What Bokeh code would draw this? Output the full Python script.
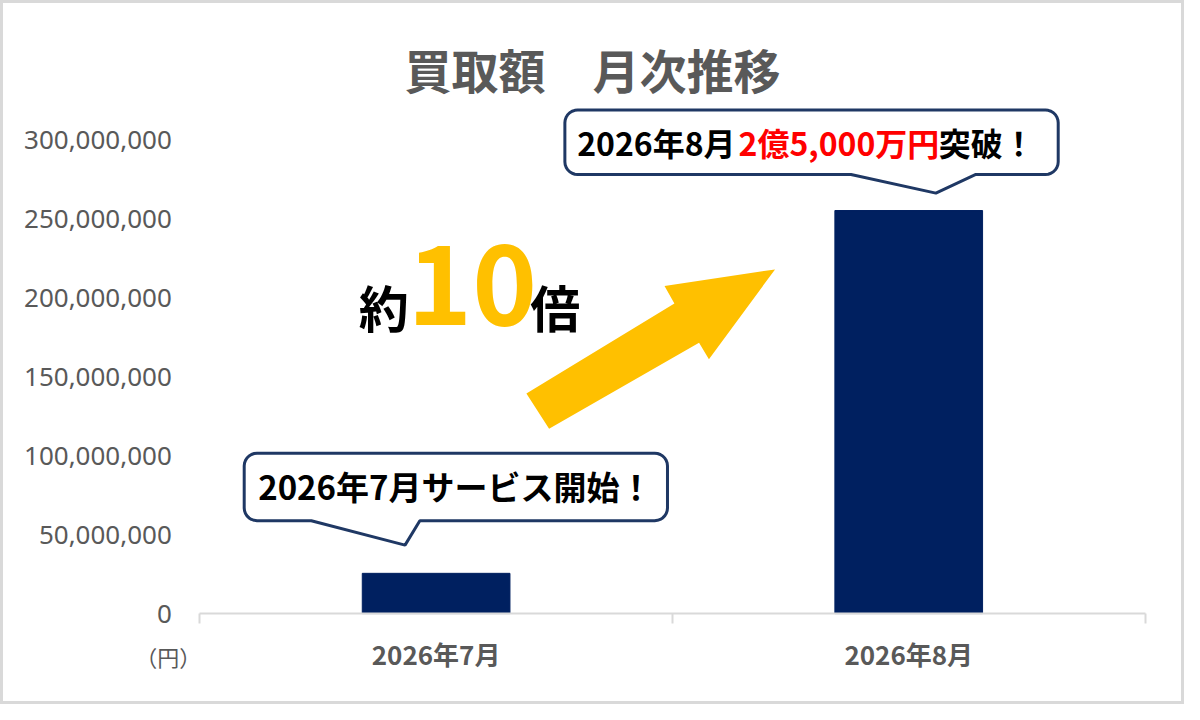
import numpy as np
from bokeh.plotting import figure
from bokeh.models import Label, FixedTicker, NumeralTickFormatter, Range1d
from bokeh.embed import file_html
from bokeh.resources import INLINE

# ---------------- data ----------------
categories = ["2026年7月", "2026年8月"]
values = [25_500_000, 255_500_000]
y_ticks = [0, 50_000_000, 100_000_000, 150_000_000, 200_000_000, 250_000_000, 300_000_000]
title_text = "買取額　月次推移"
unit_text = "（円）"
callout_jul = "2026年7月サービス開始！"
callout_aug = ["2026年8月", "2億5,000万円", "突破！"]
ratio_text = ["約", "10", "倍"]

# ---------------- layout (reference pixels, 1200x720 design) ----------------
REF_W, REF_H = 1200, 720
W, H = 1184, 704
PL, PR, PB = 202, 1160, 627          # plot area left/right/baseline
Y_TOP_TICK_PX = 143                  # row of the top tick
px_per_val = (PB - Y_TOP_TICK_PX) / y_ticks[-1]
n = len(categories)

def dx(X):
    return (X - PL) / (PR - PL) * n

def dy(Y):
    return (PB - Y) / px_per_val

CJK = "Noto Sans CJK JP"
GRAY = "#595959"

p = figure(width=W, height=H,
           x_range=Range1d(dx(0), dx(REF_W)), y_range=Range1d(dy(REF_H), dy(0)),
           output_backend="svg", toolbar_location=None, title=None,
           min_border=0, min_border_left=0, min_border_right=0,
           min_border_top=0, min_border_bottom=0)
p.background_fill_color = "white"
p.border_fill_color = "white"
p.outline_line_color = "#d9d9d9"
p.outline_line_width = 5
p.xgrid.visible = False
p.ygrid.visible = False

# x axis (category labels at centers, separators as minor ticks)
centers = [i + 0.5 for i in range(n)]
xa = p.xaxis[0]
xa.fixed_location = 0
xa.bounds = (0, n)
xa.ticker = FixedTicker(ticks=centers, minor_ticks=list(range(n + 1)))
xa.major_label_overrides = {c: cat for c, cat in zip(centers, categories)}
xa.axis_line_color = "#d9d9d9"
xa.axis_line_width = 2
xa.major_tick_line_color = None
xa.major_tick_out = 0
xa.major_tick_in = 0
xa.minor_tick_line_color = "#d9d9d9"
xa.minor_tick_line_width = 2
xa.minor_tick_out = 10
xa.minor_tick_in = 0
xa.major_label_text_font = CJK
xa.major_label_text_font_style = "bold"
xa.major_label_text_font_size = "26px"
xa.major_label_text_color = GRAY
xa.major_label_standoff = 11

# y axis
ya = p.yaxis[0]
ya.fixed_location = 0
ya.ticker = FixedTicker(ticks=y_ticks)
ya.formatter = NumeralTickFormatter(format="0,0")
ya.axis_line_color = None
ya.major_tick_line_color = None
ya.minor_tick_line_color = None
ya.major_tick_out = 0
ya.major_tick_in = 0
ya.major_label_standoff = 28
ya.major_label_text_font = "Noto Sans"
ya.major_label_text_font_size = "26px"
ya.major_label_text_color = GRAY

# bars
p.vbar(x=centers, top=values, width=0.3125, color="#002060")

# arrow
arrow_px = [(533, 402), (683, 310), (673, 292), (785, 275), (718, 367), (708, 350), (556, 438)]
p.patch([dx(a) for a, b in arrow_px], [dy(b) for a, b in arrow_px], color="#FFC000", line_width=0)

# callouts
def callout(x0, y0, x1, y1, r, bx0, bx1, tip):
    pts = []
    def arc(cx, cy, a0, a1):
        for t in np.linspace(a0, a1, 8):
            pts.append((cx + r * np.cos(t), cy + r * np.sin(t)))
    arc(x0 + r, y0 + r, np.pi, 1.5 * np.pi)
    arc(x1 - r, y0 + r, 1.5 * np.pi, 2 * np.pi)
    arc(x1 - r, y1 - r, 0, 0.5 * np.pi)
    pts.append((bx1, y1))
    pts.append(tip)
    pts.append((bx0, y1))
    arc(x0 + r, y1 - r, 0.5 * np.pi, np.pi)
    p.patch([dx(a) for a, b in pts], [dy(b) for a, b in pts],
            fill_color="white", line_color="#1f3864", line_width=3)

callout(247, 463, 676, 532, 13, 315, 425, (410, 557))
callout(572, 112, 1072, 178, 13, 862, 988, (948, 197))

def lab(X, Y, text, size, color="black", align="left", baseline="middle", font=CJK, style="bold"):
    p.add_layout(Label(x=dx(X), y=dy(Y), text=text, text_font=font, text_font_size=size,
                       text_font_style=style, text_color=color, text_align=align,
                       text_baseline=baseline))

# title
lab(600, 70, title_text, "47px", color=GRAY, align="center")
# unit
lab(170, 670, unit_text, "22px", color=GRAY, align="center", style="normal")
# callout texts
lab(461, 497, callout_jul, "33px", align="center")
lab(745, 145, callout_aug[0], "32px", align="right")
lab(748, 145, callout_aug[1], "32px", color="#FF0000", align="left")
lab(951, 145, callout_aug[2], "32px", align="left")
# ratio text
lab(363, 312, ratio_text[0], "50px", align="left", baseline="alphabetic")
lab(478, 290, ratio_text[1], "110px", color="#FFC000", align="center", baseline="alphabetic")
lab(537, 312, ratio_text[2], "50px", align="left", baseline="alphabetic")

open("out.html", "w").write(file_html(p, INLINE))
